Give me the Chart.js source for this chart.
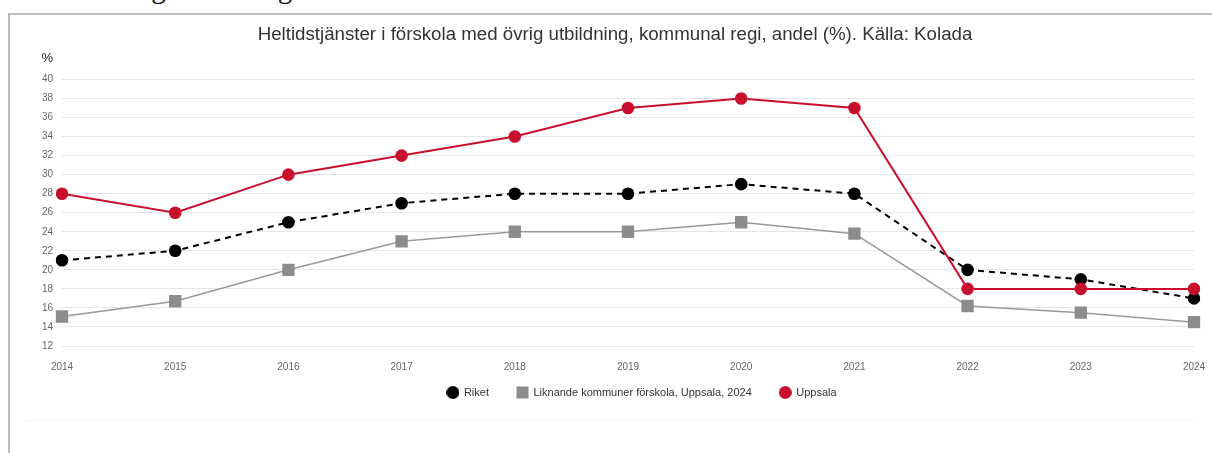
<!DOCTYPE html>
<html lang="sv">
<head>
<meta charset="utf-8">
<script src="https://cdn.jsdelivr.net/npm/chart.js@4.4.1/dist/chart.umd.min.js"></script>
<style>
  html, body { margin: 0; padding: 0; background: #fff; overflow: hidden; }
  #Sida { position: relative; width: 1212px; height: 453px; }
  #Rubrik {
    position: absolute; left: 12px; top: -28px;
    font: 29px "Liberation Serif", "DejaVu Serif", serif; color: #111; white-space: nowrap;
  }
  #Ram {
    position: absolute; left: 8px; top: 13px; width: 1210px; height: 450px;
    border-left: 2px solid #bdbdbd; border-top: 2px solid #bdbdbd;
  }
  #Linje { position: absolute; left: 25px; top: 420px; width: 1170px; height: 1px; background: #f4f4f4; }
  #Graf { position: absolute; left: 0; top: 0; }
</style>
</head>
<body>
<div id="Sida">
  <div id="Rubrik">Bild 4. Övrig utbildning</div>
  <div id="Ram"></div>
  <div id="Linje"></div>
  <canvas id="Graf" width="1212" height="453"></canvas>
</div>
<script>
const Ar        = ['2014', '2015', '2016', '2017', '2018', '2019', '2020', '2021', '2022', '2023', '2024'];
const Riket     = [21, 22, 25, 27, 28, 28, 29, 28, 20, 19, 17];
const Liknande  = [15.1, 16.7, 20, 23, 24, 24, 25, 23.8, 16.2, 15.5, 14.5];
const Uppsala   = [28, 26, 30, 32, 34, 37, 38, 37, 18, 18, 18];

const Rod   = '#c8102e';
const Gra   = '#8c8c8c';
const Svart = '#000000';

// Liten bild som legendmarkör, så att cirkel och kvadrat får samma storlek
function Markor(Form, Farg) {
  const C = document.createElement('canvas');
  C.width = 13; C.height = 13;
  const Ctx = C.getContext('2d');
  Ctx.fillStyle = Farg;
  if (Form === 'circle') {
    Ctx.beginPath(); Ctx.arc(6.5, 6.5, 6.5, 0, Math.PI * 2); Ctx.fill();
  } else {
    Ctx.fillRect(0.5, 0.5, 12, 12);
  }
  return C;
}

const Justering = {
  id: 'Justering',
  afterLayout(Chart) {
    // legend och rubrik sitter lite till höger om mitten i originalet
    const L = Chart.legend;
    L.left += 45; L.right += 45;
    L.top -= 18;  L.bottom -= 18;
    const T = Chart.titleBlock;
    T.left += 18; T.right += 18;
  },
  afterDraw(Chart) {
    const { ctx, chartArea } = Chart;
    ctx.save();
    ctx.font = '13px "Liberation Sans", Arial, sans-serif';
    ctx.fillStyle = '#222';
    ctx.textAlign = 'right';
    ctx.textBaseline = 'middle';
    ctx.fillText('%', chartArea.left - 9, chartArea.top - 21);
    ctx.restore();
  }
};

Chart.defaults.font.family = '"Liberation Sans", Arial, sans-serif';

new Chart(document.getElementById('Graf').getContext('2d'), {
  type: 'line',
  data: {
    labels: Ar,
    datasets: [
      {
        label: 'Riket',
        data: Riket,
        borderColor: Svart,
        backgroundColor: Svart,
        borderWidth: 2,
        borderDash: [6, 5],
        pointStyle: 'circle',
        pointRadius: 6.3,
        pointBorderWidth: 0,
        pointHoverRadius: 6.3,
        order: 2,
        legendMarkor: Markor('circle', Svart)
      },
      {
        label: 'Liknande kommuner förskola, Uppsala, 2024',
        data: Liknande,
        borderColor: '#999999',
        backgroundColor: Gra,
        borderWidth: 1.6,
        pointStyle: 'rect',
        pointRadius: 8.7,
        pointBorderWidth: 0,
        pointHoverRadius: 8.7,
        order: 3,
        legendMarkor: Markor('rect', Gra)
      },
      {
        label: 'Uppsala',
        data: Uppsala,
        borderColor: Rod,
        backgroundColor: Rod,
        borderWidth: 2,
        pointStyle: 'circle',
        pointRadius: 6.3,
        pointBorderWidth: 0,
        pointHoverRadius: 6.3,
        order: 1,
        legendMarkor: Markor('circle', Rod)
      }
    ]
  },
  options: {
    responsive: false,
    animation: false,
    layout: { padding: { left: 0, right: 18, top: 0, bottom: 27 } },
    plugins: {
      tooltip: { enabled: false },
      title: {
        display: true,
        text: 'Heltidstjänster i förskola med övrig utbildning, kommunal regi, andel (%). Källa: Kolada',
        color: '#333',
        font: { size: 18.7, weight: 'normal' },
        padding: { top: 24, bottom: 33 }
      },
      legend: {
        position: 'bottom',
        labels: {
          usePointStyle: true,
          color: '#333',
          font: { size: 11 },
          padding: 28,
          generateLabels: C => Chart.defaults.plugins.legend.labels.generateLabels(C)
            .sort((A, B) => A.datasetIndex - B.datasetIndex)
            .map(Item => ({ ...Item, pointStyle: C.data.datasets[Item.datasetIndex].legendMarkor }))
        }
      }
    },
    scales: {
      x: {
        offset: false,
        grid: { display: false, drawTicks: false },
        border: { display: false },
        ticks: { color: '#666', font: { size: 10 }, padding: 15, autoSkip: false, maxRotation: 0 },
        afterFit: S => { S.height = 31; S.paddingRight = 12; }
      },
      y: {
        min: 12,
        max: 40,
        grid: { color: '#e6e6e6', lineWidth: 1, drawTicks: false },
        border: { display: false },
        ticks: { stepSize: 2, color: '#666', font: { size: 10 }, padding: 9 },
        afterFit: S => { S.width = 62; }
      }
    }
  },
  plugins: [Justering]
});
</script>
</body>
</html>
